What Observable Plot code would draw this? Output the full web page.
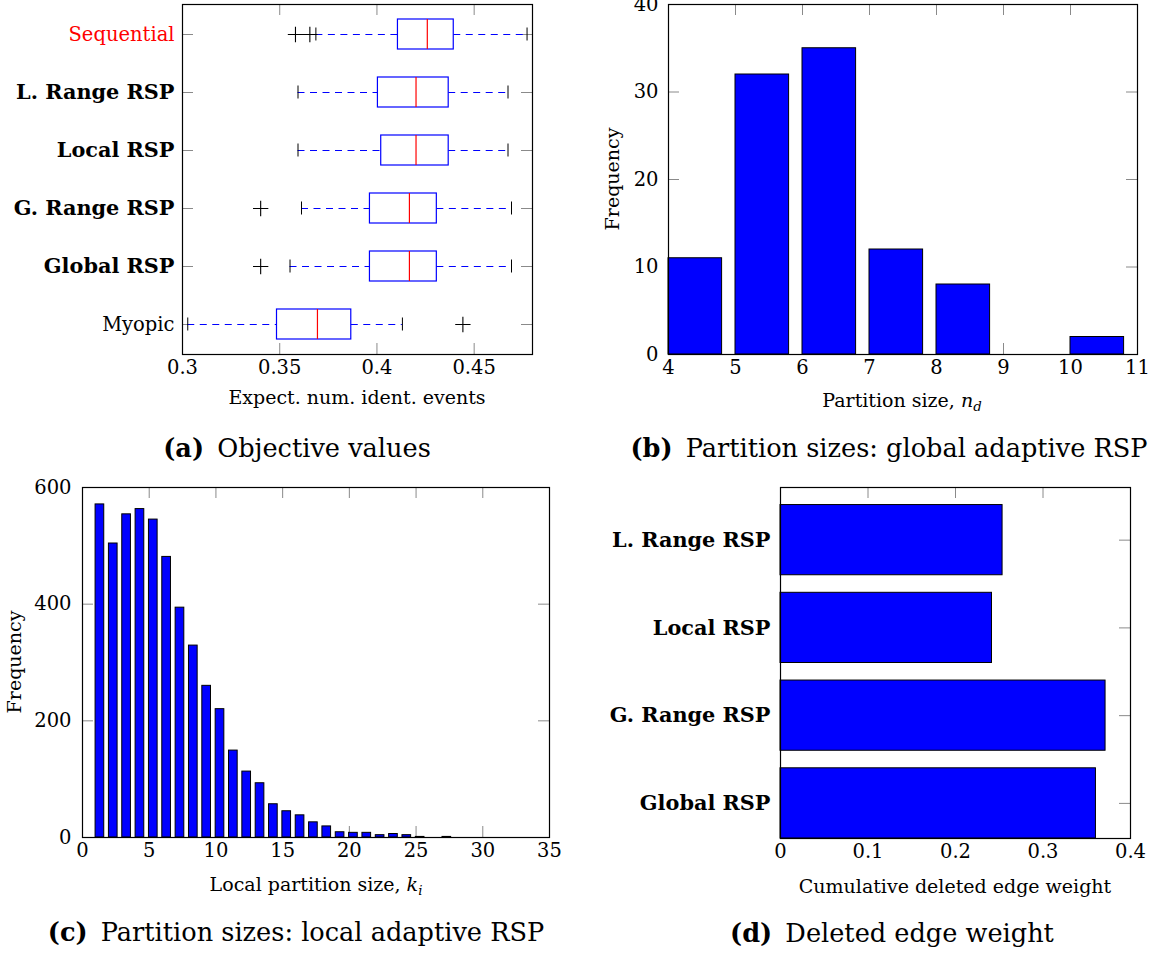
<!DOCTYPE html>
<html><head><meta charset="utf-8">
<script src="https://cdn.jsdelivr.net/npm/d3@7"></script>
<script src="https://cdn.jsdelivr.net/npm/@observablehq/plot@0.6"></script>
<style>
body{margin:0;background:#fff;}
#root{position:relative;width:1151px;height:953px;overflow:hidden;font-family:"DejaVu Serif",serif;color:#000;}
#root svg{position:absolute;}
.lab{position:absolute;white-space:nowrap;font-size:19px;transform:translate(-50%,-50%);line-height:1;}
.cap{position:absolute;white-space:nowrap;font-size:25.6px;transform:translate(-50%,-50%);line-height:1;}
.cap b{margin-right:5px;}
.rot{transform:translate(-50%,-50%) rotate(-90deg);}
.sub{font-size:0.7em;position:relative;top:0.3em;}
</style></head><body><div id="root"></div>
<script>
// ---------- (a) Objective values: box plots ----------
const methodsA = ["Sequential","L. Range RSP","Local RSP","G. Range RSP","Global RSP","Myopic"];
const lowWhisker    = [0.3686,0.3594,0.3594,0.3612,0.3553,0.3027];
const lowerQuartile = [0.4108,0.4005,0.4022,0.3964,0.3964,0.3486];
const medianA       = [0.4259,0.4201,0.4201,0.4167,0.4167,0.3694];
const upperQuartile = [0.4395,0.4369,0.4369,0.4308,0.4308,0.3868];
const highWhisker   = [0.4772,0.4674,0.4674,0.4692,0.4692,0.4131];
const outlierMethod = ["Sequential","Sequential","G. Range RSP","Global RSP","Myopic"];
const outlierValue  = [0.3581,0.3655,0.3402,0.3402,0.4442];
const xTicksA = [0.3,0.35,0.4,0.45];
const boldA = ["L. Range RSP","Local RSP","G. Range RSP","Global RSP"];

// ---------- (b) Partition sizes: global adaptive RSP ----------
const partitionSize = [4,5,6,7,8,9,10];
const freqGlobal    = [11,32,35,12,8,0,2];

// ---------- (c) Partition sizes: local adaptive RSP ----------
const localSize = [1,2,3,4,5,6,7,8,9,10,11,12,13,14,15,16,17,18,19,20,21,22,23,24,25,26,27,28,29,30,31,32,33,34];
const freqLocal = [571,504,554,563,545,481,394,329,260,220,149,113,93,57,45,38,26,19,9,8,8,4,6,4,1,0,1,0,0,0,0,0,0,0];

// ---------- (d) Deleted edge weight ----------
const methodsD = ["Global RSP","G. Range RSP","Local RSP","L. Range RSP"];
const deletedWeight = [0.3605,0.3715,0.2417,0.2538];

const root = document.getElementById("root");
const tickGray = "#8a8a8a";
const BLUE = "#0000ff";
const font = {fontFamily:'"DejaVu Serif", serif', fontSize:"19.5px", background:"transparent", overflow:"visible"};
const TL = 11; // tick length
const boldStyle = {fontWeight:"bold", fontSize:"20.8px"};

function place(svg, left, top){ svg.style.left = left+"px"; svg.style.top = top+"px"; root.appendChild(svg); }
function frameTicks(xt, yt, iw, ih){
  return [
    Plot.gridX({ticks: xt, stroke: tickGray, strokeOpacity: 1, insetTop: ih - TL}),
    Plot.gridX({ticks: xt, stroke: tickGray, strokeOpacity: 1, insetBottom: ih - TL}),
    Plot.gridY({ticks: yt, stroke: tickGray, strokeOpacity: 1, insetRight: iw - TL}),
    Plot.gridY({ticks: yt, stroke: tickGray, strokeOpacity: 1, insetLeft: iw - TL})
  ];
}

// Panel a
{
  const W=575,H=420,mL=182,mR=43,mT=4,mB=66, iw=W-mL-mR, ih=H-mT-mB;
  const boxes = methodsA.map((m,i)=>({m, lo:lowWhisker[i], q1:lowerQuartile[i], med:medianA[i], q3:upperQuartile[i], hi:highWhisker[i]}));
  const outs = outlierMethod.map((m,i)=>({m, v:outlierValue[i]}));
  const p = Plot.plot({
    width:W, height:H, marginLeft:mL, marginRight:mR, marginTop:mT, marginBottom:mB, style:font,
    x:{domain:[0.3,0.48]},
    y:{domain:methodsA, paddingInner:0.49, paddingOuter:0.245},
    marks:[
      ...frameTicks(xTicksA, methodsA, iw, ih),
      Plot.ruleY(boxes, {x1:"lo", x2:"q1", y:"m", stroke:BLUE, strokeDasharray:"7,5.5"}),
      Plot.ruleY(boxes, {x1:"q3", x2:"hi", y:"m", stroke:BLUE, strokeDasharray:"7,5.5"}),
      Plot.tickX(boxes, {x:"lo", y:"m", stroke:"#000", insetTop:8.5, insetBottom:8.5}),
      Plot.tickX(boxes, {x:"hi", y:"m", stroke:"#000", insetTop:8.5, insetBottom:8.5}),
      Plot.barX(boxes, {x1:"q1", x2:"q3", y:"m", fill:"white", stroke:BLUE, strokeWidth:1.2}),
      Plot.tickX(boxes, {x:"med", y:"m", stroke:"#ff0000", strokeWidth:1.2}),
      Plot.dot(outs, {x:"v", y:"m", symbol:"plus", r:5, stroke:"#000", strokeWidth:1.1}),
      Plot.axisX({ticks:xTicksA, tickSize:0, tickPadding:6, tickFormat:d=>String(d), label:null}),
      Plot.axisY({ticks:["Sequential"], tickSize:0, tickPadding:8, fill:"#ff0000", label:null}),
      Plot.axisY({ticks:boldA, tickSize:0, tickPadding:8, ...boldStyle, label:null}),
      Plot.axisY({ticks:["Myopic"], tickSize:0, tickPadding:8, label:null}),
      Plot.frame({stroke:"#000", strokeWidth:1.2})
    ]
  });
  place(p, 0, 0);
}

// Panel b
{
  const W=576,H=420,mL=93,mR=14,mT=4,mB=66, iw=W-mL-mR, ih=H-mT-mB;
  const data = partitionSize.map((k,i)=>({k, f:freqGlobal[i]}));
  const xt=[4,5,6,7,8,9,10,11], yt=[0,10,20,30,40];
  const p = Plot.plot({
    width:W, height:H, marginLeft:mL, marginRight:mR, marginTop:mT, marginBottom:mB, style:font,
    x:{domain:[4,11]}, y:{domain:[0,40]},
    marks:[
      ...frameTicks(xt, yt, iw, ih),
      Plot.rectY(data, {x1:"k", x2:d=>d.k+0.8, y:"f", fill:BLUE, stroke:"#000", strokeWidth:1}),
      Plot.axisX({ticks:xt, tickSize:0, tickPadding:6, tickFormat:d=>String(d), label:null}),
      Plot.axisY({ticks:yt, tickSize:0, tickPadding:10, tickFormat:d=>String(d), label:null}),
      Plot.frame({stroke:"#000", strokeWidth:1.2})
    ]
  });
  place(p, 575, 0);
}

// Panel c
{
  const W=575,H=420,mL=82,mR=26,mT=7,mB=63, iw=W-mL-mR, ih=H-mT-mB;
  const data = localSize.map((k,i)=>({k, f:freqLocal[i]}));
  const xt=[0,5,10,15,20,25,30,35], yt=[0,200,400,600];
  const p = Plot.plot({
    width:W, height:H, marginLeft:mL, marginRight:mR, marginTop:mT, marginBottom:mB, style:font,
    x:{domain:[0,35]}, y:{domain:[0,600]},
    marks:[
      ...frameTicks(xt, yt, iw, ih),
      Plot.rectY(data, {x1:d=>d.k-0.02, x2:d=>d.k+0.63, y:"f", fill:BLUE, stroke:"#000", strokeWidth:1}),
      Plot.axisX({ticks:xt, tickSize:0, tickPadding:6, tickFormat:d=>String(d), label:null}),
      Plot.axisY({ticks:yt, tickSize:0, tickPadding:11, tickFormat:d=>String(d), label:null}),
      Plot.frame({stroke:"#000", strokeWidth:1.2})
    ]
  });
  place(p, 0, 480);
}

// Panel d
{
  const W=576,H=420,mL=205,mR=21,mT=7,mB=62, iw=W-mL-mR, ih=H-mT-mB;
  const data = methodsD.map((m,i)=>({i, w:deletedWeight[i]}));
  const xt=[0,0.1,0.2,0.3,0.4], yt=[0,1,2,3];
  const p = Plot.plot({
    width:W, height:H, marginLeft:mL, marginRight:mR, marginTop:mT, marginBottom:mB, style:font,
    x:{domain:[0,0.4]}, y:{domain:[-0.4,3.6]},
    marks:[
      ...frameTicks(xt, yt, iw, ih),
      Plot.rectX(data, {y1:d=>d.i-0.4, y2:d=>d.i+0.4, x:"w", fill:BLUE, stroke:"#000", strokeWidth:1}),
      Plot.axisX({ticks:xt, tickSize:0, tickPadding:6, tickFormat:d=>String(d), label:null}),
      Plot.axisY({ticks:yt, tickSize:0, tickPadding:10, tickFormat:i=>methodsD[i], ...boldStyle, label:null}),
      Plot.frame({stroke:"#000", strokeWidth:1.2})
    ]
  });
  place(p, 575, 480);
}

// Axis titles and sub-captions
function addLabel(html, cx, cy, cls){
  const d = document.createElement("div");
  d.className = cls; d.innerHTML = html;
  d.style.left = cx+"px"; d.style.top = cy+"px";
  root.appendChild(d);
}
addLabel("Expect. num. ident. events", 357, 397, "lab");
addLabel("Partition size, <i>n<span class='sub'>d</span></i>", 902, 400, "lab");
addLabel("Frequency", 612, 179, "lab rot");
addLabel("Frequency", 14, 662, "lab rot");
addLabel("Local partition size, <i>k<span class='sub'>i</span></i>", 316, 884, "lab");
addLabel("Cumulative deleted edge weight", 955, 886, "lab");
addLabel("<b>(a)</b> Objective values", 297, 449, "cap");
addLabel("<b>(b)</b> Partition sizes: global adaptive RSP", 889, 449, "cap");
addLabel("<b>(c)</b> Partition sizes: local adaptive RSP", 296, 933, "cap");
addLabel("<b>(d)</b> Deleted edge weight", 892, 934, "cap");
</script>
</body></html>
